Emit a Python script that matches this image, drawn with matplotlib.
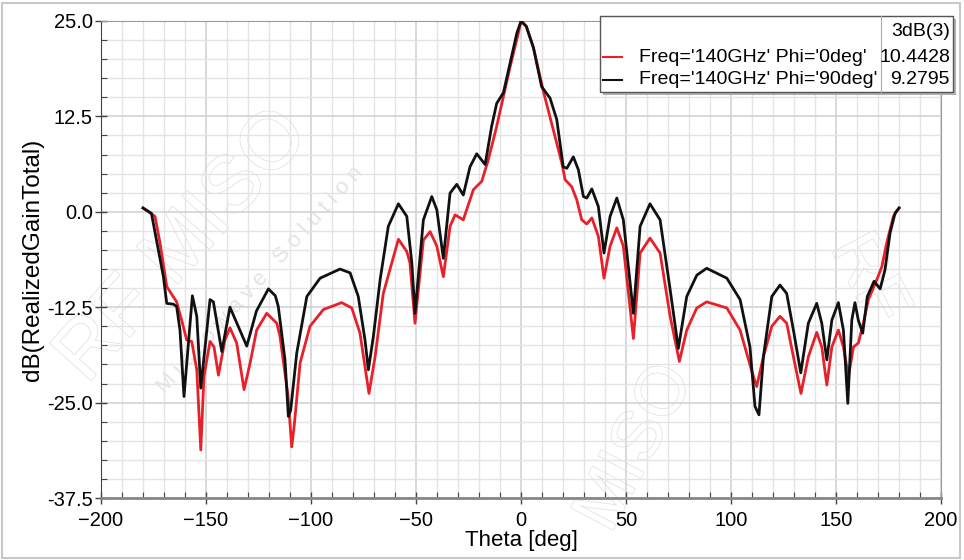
import numpy as np
import matplotlib.pyplot as plt
import matplotlib.patheffects as pe
from matplotlib.patches import Rectangle
from matplotlib.lines import Line2D
from matplotlib.ticker import MultipleLocator

plt.rcParams['font.family'] = ['Liberation Sans', 'DejaVu Sans']

# Phi = 0deg (red)
theta_0 = [-180, -174.3, -171.9, -168.7, -164, -161.6, -159.2, -156.8, -154.4, -152.5,
           -151, -148.1, -146.2, -144.1, -141, -138.6, -135.4, -131.9, -129, -125.9,
           -121.1, -116.3, -114.8, -111, -109.2, -108, -105.2, -100.5, -94.1, -85.4,
           -80.6, -76.7, -72.4, -69.5, -65.6, -58.4, -54.4, -52.9, -50.5, -46.5,
           -43.3, -40.1, -37.0, -33.8, -31.4, -27.5, -22.7, -18.7, -15.6, -11.6,
           -8.4, -5.2, -1.3, 0, 2.5, 5.9, 10.8, 15.4, 19.4, 21.0,
           24.1, 26.5, 28.9, 31.3, 33.7, 36.8, 39.5, 42.4, 45.6, 48.7,
           53.5, 56.7, 61.4, 66.2, 71.0, 75.4, 78.9, 83.7, 88.4, 98.0,
           104.3, 110, 112.2, 115.4, 119.4, 123.3, 126.5, 129.7, 133.3, 136.8,
           140.8, 143.2, 145.6, 148.0, 151.1, 153.5, 155.9, 158.3, 160.6, 163.0,
           165.4, 169.4, 171.8, 174.1, 177.3, 180]
gain_0 = [0.5, -0.6, -4.1, -9.8, -11.8, -14.2, -16.8, -17.0, -20.7, -31.2,
          -21.6, -17.0, -17.7, -21.4, -16.8, -15.2, -17.2, -23.3, -19.8, -15.5,
          -13.3, -14.6, -16.3, -24.0, -30.8, -28.0, -19.8, -15.0, -12.8, -11.9,
          -12.6, -15.9, -23.8, -19.0, -10.7, -3.6, -5.2, -6.7, -14.6, -3.7,
          -2.6, -4.5, -8.5, -1.9, -0.4, -1.05, 2.9, 4.0, 6.8, 11.2,
          15.1, 19.0, 23.4, 25.0, 24.3, 21.5, 15.6, 10.7, 6.4, 4.2,
          3.3, 1.6, -1.05, -1.6, -0.8, -3.2, -8.7, -4.5, -2.1, -4.5,
          -16.6, -5.4, -3.45, -5.4, -13.7, -19.6, -15.5, -12.6, -11.8, -12.6,
          -15.5, -21.0, -22.9, -19.0, -15.0, -13.7, -14.6, -19.0, -23.8, -19.0,
          -15.8, -17.7, -22.7, -17.7, -15.5, -17.7, -21.6, -17.7, -17.2, -14.6,
          -11.5, -8.9, -7.2, -4.1, -0.6, 0.5]

# Phi = 90deg (black)
theta_90 = [-180, -176, -170.3, -168.7, -165.6, -164, -162.4, -160.5, -156.5, -154.4,
            -152.5, -148.1, -146.5, -142.5, -138.6, -130.6, -126, -120.3, -117, -115.6,
            -112.4, -110.8, -109.7, -106.8, -102, -95.7, -86.2, -81.4, -77.5, -74.3,
            -72.7, -70.3, -67.1, -63.2, -58.4, -54.4, -52.0, -50.5, -46.5, -42.5,
            -40.1, -37.0, -33.8, -30.6, -27.5, -24.3, -21.1, -17.1, -14.0, -11.6,
            -8.4, -5.2, -2.0, 0, 2.5, 5.9, 9.8, 13.8, 17.0, 20.1,
            21.8, 24.9, 27.3, 29.7, 31.3, 33.7, 36.8, 39.5, 42.4, 45.6,
            48.7, 53.5, 56.7, 61.4, 66.2, 71.0, 74.9, 78.9, 83.7, 88.4,
            98.0, 104.3, 109.0, 111.4, 113.3, 115.4, 119.4, 123.3, 126.5, 129.7,
            133.2, 136.8, 140.8, 143.2, 145.6, 148.0, 151.1, 153.5, 155.6, 157.5,
            159.0, 160.6, 162.7, 164.9, 168.1, 171.0, 173.3, 175.7, 178.1, 180]
gain_90 = [0.5, -0.2, -8.5, -12.0, -12.1, -12.4, -15.5, -24.2, -11.0, -13.7,
           -23.1, -11.5, -11.8, -18.3, -12.5, -17.6, -13.0, -10.1, -11.0, -12.4,
           -19.4, -26.8, -26.0, -18.5, -11.1, -8.7, -7.5, -8.0, -11.1, -16.8,
           -20.7, -16.3, -8.9, -1.9, 1.05, -0.6, -6.7, -13.3, -1.05, 2.0,
           0.26, -6.1, 2.45, 3.6, 2.2, 5.9, 7.6, 6.2, 11.2, 14.2,
           15.6, 19.5, 23.4, 25.0, 24.3, 21.5, 16.4, 14.9, 12.1, 5.9,
           5.7, 7.2, 5.5, 2.0, 1.8, 3.0, 0.7, -5.4, -0.6, 1.8,
           -1.05, -13.3, -1.9, 1.05, -1.05, -10.2, -17.9, -11.1, -8.3, -7.4,
           -8.7, -11.5, -17.7, -25.5, -26.6, -19.0, -11.1, -9.6, -10.7, -15.5,
           -21.1, -14.6, -12.0, -14.6, -19.4, -14.2, -11.9, -15.5, -25.1, -14.2,
           -11.9, -14.2, -15.9, -11.1, -9.1, -10.1, -7.6, -2.8, -0.17, 0.5]

labels = ["Freq='140GHz' Phi='0deg'", "Freq='140GHz' Phi='90deg'"]
beamwidth = ['10.4428', '9.2795']
colors = ['#e8202a', '#111111']

fig = plt.figure(figsize=(9.64, 5.6), dpi=100)
ax = fig.add_axes([0.1048, 0.1107, 0.8714, 0.8518])

# faint watermark, kept under the axes
wm = dict(color='white', zorder=-1, ha='center', va='center',
          path_effects=[pe.withStroke(linewidth=1.0, foreground='#dedede')])
fig.text(0.19, 0.56, 'RF MISO', fontsize=58, rotation=48, **wm)
fig.text(0.27, 0.50, 'M i c r o w a v e   S o l u t i o n', fontsize=16, rotation=48,
         color='#e4e4e4', ha='center', va='center', zorder=-1)
fig.text(0.66, 0.20, 'MISO', fontsize=50, rotation=62, **wm)
fig.text(0.90, 0.50, 'RF', fontsize=50, rotation=-62, **wm)

ax.plot(theta_0, gain_0, color=colors[0], lw=2.0, zorder=3)
ax.plot(theta_90, gain_90, color=colors[1], lw=2.0, zorder=4)

ax.set_xlim(-200, 200)
ax.set_ylim(-37.5, 25)
ax.xaxis.set_major_locator(MultipleLocator(50))
ax.xaxis.set_minor_locator(MultipleLocator(10))
ax.yaxis.set_major_locator(MultipleLocator(12.5))
ax.yaxis.set_minor_locator(MultipleLocator(2.5))
ax.set_yticklabels([f'{v:.1f}' for v in ax.get_yticks()])
ax.grid(which='major', color='#d0d0d0', lw=1.1)
ax.grid(which='minor', color='#e4e4e4', lw=1.0)
ax.set_axisbelow(True)
ax.patch.set_alpha(0)
ax.tick_params(which='major', direction='inout', length=8, width=1, color='#444444',
               labelsize=14.5)
ax.tick_params(axis='x', which='major', pad=5)
ax.tick_params(axis='y', which='major', pad=2)
ax.tick_params(which='minor', direction='in', length=4, width=0.8, color='#444444')
for s in ['top', 'right']:
    ax.spines[s].set_color('#9a9a9a')
ax.spines['left'].set_color('#444444')
ax.spines['bottom'].set_color('#888888')
ax.spines['bottom'].set_linewidth(2)
ax.set_xlabel('Theta [deg]', fontsize=16, labelpad=0)
ax.set_ylabel('dB(RealizedGainTotal)', fontsize=17.5, labelpad=2)

# legend table drawn in figure pixels
def fx(px):
    return px / 964

def fy(py):
    return 1 - py / 560

fig.patches.append(Rectangle((fx(603), fy(95)), fx(353), 76 / 560, transform=fig.transFigure,
                             facecolor='#b0b0b0', edgecolor='none', zorder=9))
fig.patches.append(Rectangle((fx(600), fy(92)), fx(353), 76 / 560, transform=fig.transFigure,
                             facecolor='white', edgecolor='#555555', lw=1, zorder=10))
fig.lines.append(Line2D([fx(881), fx(881)], [fy(16), fy(92)], transform=fig.transFigure,
                        color='#aaaaaa', lw=0.8, zorder=11))
fig.text(fx(950), fy(32), '3dB(3)', fontsize=14, ha='right', va='center', zorder=12)
for i, (lab, bw, c) in enumerate(zip(labels, beamwidth, colors)):
    yy = fy(57 + 23 * i)
    fig.lines.append(Line2D([fx(603), fx(622)], [yy, yy], transform=fig.transFigure,
                            color=c, lw=1.5, zorder=12))
    fig.text(fx(639), yy, lab, fontsize=14, ha='left', va='center', zorder=12)
    fig.text(fx(950), yy, bw, fontsize=14, ha='right', va='center', zorder=12)

# outer frame
fig.patches.append(Rectangle((0.002, 0.003), 0.994, 0.992, transform=fig.transFigure,
                             facecolor='none', edgecolor='#c8c8c8', lw=1.5, zorder=20))

plt.savefig('out.png')
